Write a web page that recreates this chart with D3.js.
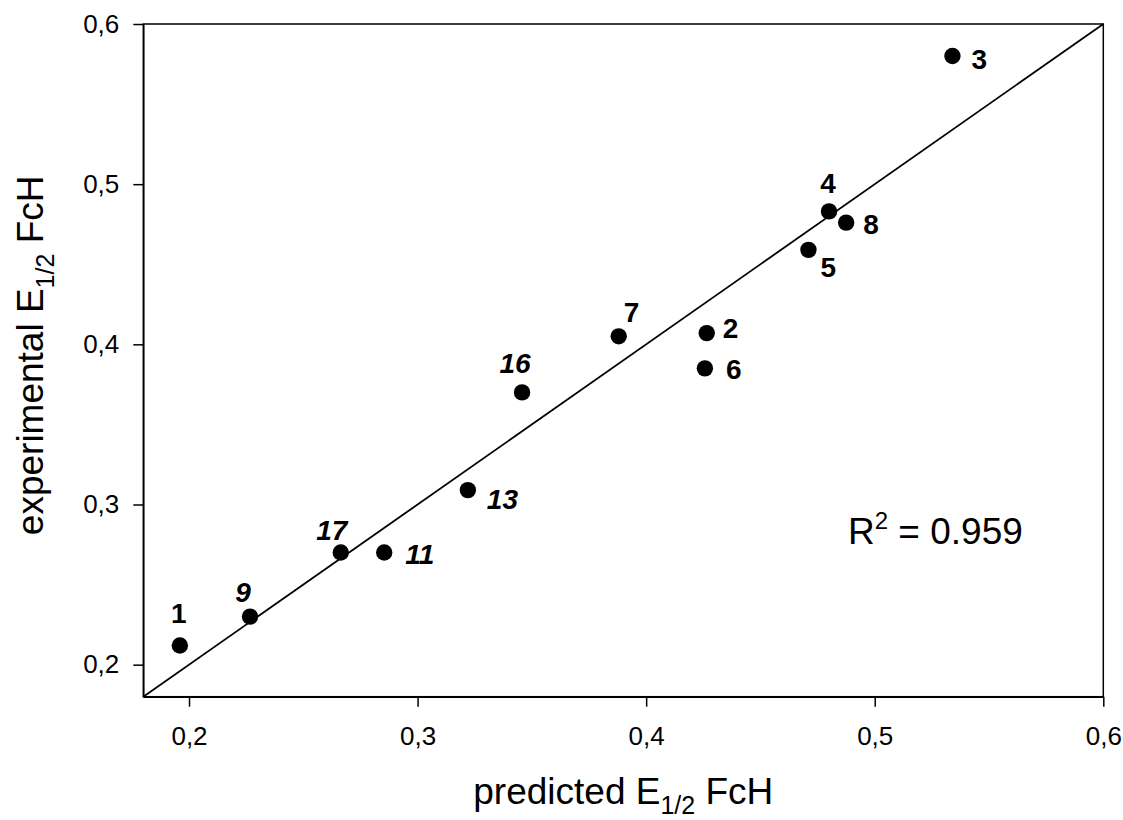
<!DOCTYPE html>
<html>
<head>
<meta charset="utf-8">
<script src="https://cdn.jsdelivr.net/npm/d3@7"></script>
<style>
  html, body { margin: 0; padding: 0; background: #fff; }
  svg { display: block; font-family: "Liberation Sans", Arial, sans-serif; }
</style>
</head>
<body>
<svg id="chart" width="1123" height="820"></svg>
<script>
// ---- data ----
const compounds = ["1", "2", "3", "4", "5", "6", "7", "8", "9", "11", "13", "16", "17"];
const predicted = [0.196, 0.4265, 0.534, 0.480, 0.471, 0.4257, 0.388, 0.4875, 0.2267, 0.2854, 0.322, 0.3457, 0.2664];
const experimental = [0.212, 0.407, 0.580, 0.483, 0.459, 0.385, 0.405, 0.476, 0.230, 0.270, 0.309, 0.370, 0.270];
const xTicks = [0.2, 0.3, 0.4, 0.5, 0.6];
const yTicks = [0.2, 0.3, 0.4, 0.5, 0.6];
const rSquared = "0.959";

// ---- layout / style (not data) ----
const italicIds = new Set(["9", "11", "13", "16", "17"]);
const labelLayout = {
  "1":  { dx: -1, dy: -22, anchor: "middle" },
  "2":  { dx: 16, dy: 5,   anchor: "start" },
  "3":  { dx: 19, dy: 13,  anchor: "start" },
  "4":  { dx: -1, dy: -18, anchor: "middle" },
  "5":  { dx: 12, dy: 27,  anchor: "start" },
  "6":  { dx: 21, dy: 11,  anchor: "start" },
  "7":  { dx: 5,  dy: -14, anchor: "start" },
  "8":  { dx: 17, dy: 11,  anchor: "start" },
  "9":  { dx: -7, dy: -15, anchor: "middle" },
  "11": { dx: 21, dy: 11,  anchor: "start" },
  "13": { dx: 19, dy: 19,  anchor: "start" },
  "16": { dx: -7, dy: -19, anchor: "middle" },
  "17": { dx: -9, dy: -13, anchor: "middle" }
};

const margin = { left: 143.3, right: 1123 - 1103.3, top: 24, bottom: 820 - 696.7 };
const W = 1123, H = 820;
const svg = d3.select("#chart");

const x = d3.scaleLinear().domain([0.18, 0.6]).range([margin.left, W - margin.right]);
const y = d3.scaleLinear().domain([0.18, 0.6]).range([H - margin.bottom, margin.top]);
const fmt = d => d3.format(".1f")(d).replace(".", ",");

// frame
svg.append("rect")
  .attr("x", x(0.18)).attr("y", y(0.6))
  .attr("width", x(0.6) - x(0.18)).attr("height", y(0.18) - y(0.6))
  .attr("fill", "none").attr("stroke", "#000").attr("stroke-width", 1.5);

// axes
const xAxis = svg.append("g")
  .attr("transform", `translate(0,${y(0.18)})`)
  .call(d3.axisBottom(x).tickValues(xTicks).tickFormat(fmt).tickSize(10).tickSizeOuter(0).tickPadding(20));
const yAxis = svg.append("g")
  .attr("transform", `translate(${x(0.18)},0)`)
  .call(d3.axisLeft(y).tickValues(yTicks).tickFormat(fmt).tickSize(10).tickSizeOuter(0).tickPadding(14));
[xAxis, yAxis].forEach(g => {
  g.selectAll(".domain").attr("stroke", "#000").attr("stroke-width", 1.5);
  g.selectAll(".tick line").attr("stroke", "#000").attr("stroke-width", 1.5);
  g.selectAll(".tick text")
    .attr("fill", "#000")
    .style("font-family", '"Liberation Sans", Arial, sans-serif')
    .style("font-size", "26px");
});

// identity line
svg.append("line")
  .attr("x1", x(0.18)).attr("y1", y(0.18))
  .attr("x2", x(0.6)).attr("y2", y(0.6))
  .attr("stroke", "#000").attr("stroke-width", 1.8);

// points
const pts = compounds.map((id, i) => ({ id, px: predicted[i], ex: experimental[i] }));
svg.append("g").selectAll("circle").data(pts).join("circle")
  .attr("cx", d => x(d.px)).attr("cy", d => y(d.ex))
  .attr("r", 8.2).attr("fill", "#000");

svg.append("g").selectAll("text").data(pts).join("text")
  .attr("x", d => x(d.px) + labelLayout[d.id].dx)
  .attr("y", d => y(d.ex) + labelLayout[d.id].dy)
  .attr("text-anchor", d => labelLayout[d.id].anchor)
  .style("font-size", "28px")
  .style("font-weight", "bold")
  .style("font-style", d => italicIds.has(d.id) ? "italic" : "normal")
  .text(d => d.id);

// R^2 annotation
const r2 = svg.append("text")
  .attr("x", 848).attr("y", 544)
  .style("font-size", "37px");
r2.append("tspan").text("R");
r2.append("tspan").attr("dy", -15).style("font-size", "24px").text("2");
r2.append("tspan").attr("dy", 15).text(" = " + rSquared);

// axis titles
const xt = svg.append("text")
  .attr("x", (x(0.18) + x(0.6)) / 2).attr("y", 804)
  .attr("text-anchor", "middle")
  .style("font-size", "37px");
xt.append("tspan").text("predicted E");
xt.append("tspan").attr("dy", 10).style("font-size", "25px").text("1/2");
xt.append("tspan").attr("dy", -10).text(" FcH");

const yt = svg.append("text")
  .attr("transform", `translate(43,${(y(0.18) + y(0.6)) / 2 - 5}) rotate(-90)`)
  .attr("text-anchor", "middle")
  .style("font-size", "37px");
yt.append("tspan").text("experimental E");
yt.append("tspan").attr("dy", 11).style("font-size", "25px").text("1/2");
yt.append("tspan").attr("dy", -11).text(" FcH");
</script>
</body>
</html>
